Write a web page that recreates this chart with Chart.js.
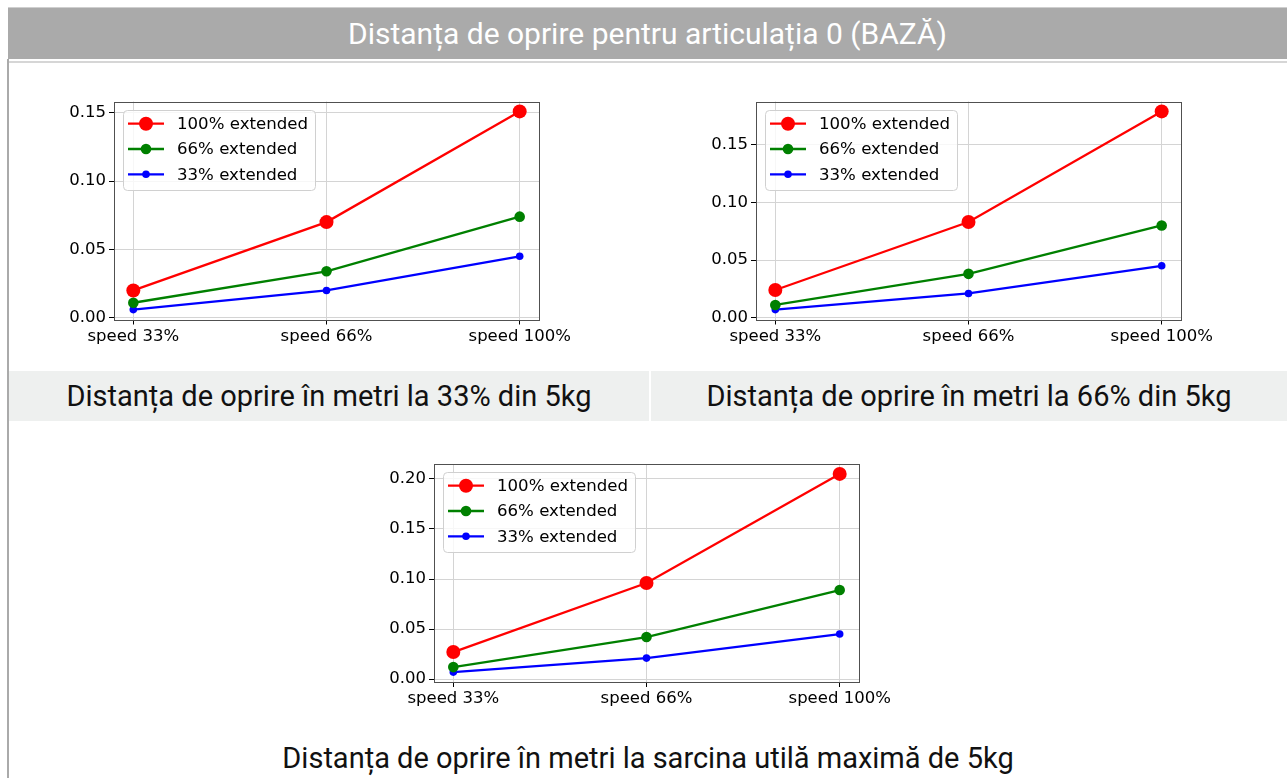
<!DOCTYPE html>
<html>
<head>
<meta charset="utf-8">
<script src="https://cdn.jsdelivr.net/npm/chart.js@4.4.1/dist/chart.umd.min.js"></script>
<style>
  body { margin: 0; width: 1287px; height: 778px; overflow: hidden; background: #fff; position: relative;
         font-family: Roboto, "Liberation Sans", sans-serif; }
  .abs { position: absolute; }
  #header { left: 8px; top: 7px; width: 1279px; height: 52px; box-sizing: border-box; background: #aaaaaa;
            border-top: 1px solid #cfcfcf; color: #fff; font-size: 30px;
            display: flex; align-items: center; justify-content: center; }
  #headerLine { left: 9px; top: 61px; width: 1278px; height: 2px; background: #d6d6d6; }
  #leftBorder { left: 7px; top: 59px; width: 2px; height: 719px; background: #aaaaaa; }
  .caption { height: 50px; top: 371px; background: #eef0ef; color: #111; font-size: 29px;
             display: flex; align-items: center; justify-content: center; }
  #bottomCaption { left: 9px; top: 737px; width: 1278px; height: 42px; color: #111; font-size: 29px;
                   display: flex; align-items: center; justify-content: center; }
  .plot { width: 550px; height: 270px; }
</style>
</head>
<body>

<div id="header" class="abs">Distanța de oprire pentru articulația 0 (BAZĂ)</div>
<div id="headerLine" class="abs"></div>
<div id="leftBorder" class="abs"></div>

<div class="abs plot" style="left:55px;top:88px"><canvas id="chart33" width="550" height="270"></canvas></div>
<div class="abs plot" style="left:697px;top:88px"><canvas id="chart66" width="550" height="270"></canvas></div>
<div class="abs plot" style="left:375px;top:450px"><canvas id="chartMax" width="550" height="270"></canvas></div>

<div class="abs caption" style="left:9px;width:640px">Distanța de oprire în metri la 33% din 5kg</div>
<div class="abs caption" style="left:651px;width:636px">Distanța de oprire în metri la 66% din 5kg</div>
<div id="bottomCaption" class="abs">Distanța de oprire în metri la sarcina utilă maximă de 5kg</div>

<script>
// ── Data ─────────────────────────────────────────────────────
const speeds = ["speed 33%", "speed 66%", "speed 100%"];
const seriesNames = ["100% extended", "66% extended", "33% extended"];

// payload 33% of 5kg
const load33_ext100 = [0.020, 0.070, 0.151];
const load33_ext66  = [0.011, 0.034, 0.074];
const load33_ext33  = [0.006, 0.020, 0.045];

// payload 66% of 5kg
const load66_ext100 = [0.024, 0.083, 0.179];
const load66_ext66  = [0.011, 0.038, 0.080];
const load66_ext33  = [0.007, 0.021, 0.045];

// max payload 5kg
const loadMax_ext100 = [0.027, 0.096, 0.205];
const loadMax_ext66  = [0.012, 0.042, 0.089];
const loadMax_ext33  = [0.007, 0.021, 0.045];

const yTicksSmall = [0.00, 0.05, 0.10, 0.15];
const yTicksLarge = [0.00, 0.05, 0.10, 0.15, 0.20];

// ── Style (matplotlib look) ─────────────────────────────────
const TICK_FONT = { family: "'DejaVu Sans', sans-serif", size: 16.5 };
const seriesStyle = [
  { color: "#ff0000", radius: 7 },
  { color: "#008000", radius: 5.3 },
  { color: "#0000ff", radius: 3.8 },
];

// frame around the plot area
const framePlugin = {
  id: "frame",
  beforeDatasetsDraw(chart) {
    const { ctx, chartArea: a } = chart;
    ctx.save();
    ctx.strokeStyle = "#505050";
    ctx.lineWidth = 1;
    ctx.strokeRect(Math.round(a.left) + 0.5, Math.round(a.top) + 0.5,
                   Math.round(a.right - a.left), Math.round(a.bottom - a.top));
    ctx.restore();
  },
};

// legend box in the upper-left corner, like plt.legend()
const mplLegend = {
  id: "mplLegend",
  afterDatasetsDraw(chart) {
    const { ctx, chartArea } = chart;
    const x = Math.round(chartArea.left) + 9;
    const y = Math.round(chartArea.top) + 8;
    ctx.save();
    ctx.beginPath();
    ctx.roundRect(x + 0.5, y + 0.5, 192, 80, 4);
    ctx.fillStyle = "rgba(255,255,255,0.8)";
    ctx.fill();
    ctx.strokeStyle = "#d0d0d0";
    ctx.lineWidth = 1;
    ctx.stroke();

    chart.data.datasets.forEach((ds, i) => {
      const ry = y + 13.7 + i * 25.3;
      ctx.strokeStyle = ds.borderColor;
      ctx.lineWidth = ds.borderWidth;
      ctx.beginPath();
      ctx.moveTo(x + 5, ry);
      ctx.lineTo(x + 41, ry);
      ctx.stroke();
      ctx.fillStyle = ds.backgroundColor;
      ctx.beginPath();
      ctx.arc(x + 23, ry, ds.pointRadius, 0, Math.PI * 2);
      ctx.fill();
      ctx.fillStyle = "#000";
      ctx.font = "16.6px 'DejaVu Sans'";
      ctx.textAlign = "left";
      ctx.textBaseline = "middle";
      ctx.fillText(ds.label, x + 54, ry + 1);
    });
    ctx.restore();
  },
};

function makeChart(canvasId, seriesList, yTicks, padTop) {
  // matplotlib-like autoscale: 5% margins around the data
  const all = seriesList.flat();
  const lo = Math.min(...all), hi = Math.max(...all);
  const margin = (hi - lo) * 0.05;

  const datasets = seriesList.map((values, i) => ({
    label: seriesNames[i],
    data: values.map((v, j) => ({ x: j, y: v })),
    borderColor: seriesStyle[i].color,
    backgroundColor: seriesStyle[i].color,
    borderWidth: 2.3,
    pointRadius: seriesStyle[i].radius,
    pointHoverRadius: seriesStyle[i].radius,
    pointBorderWidth: 0,
    tension: 0,
    clip: false,
  }));

  return new Chart(document.getElementById(canvasId), {
    type: "line",
    data: { datasets },
    plugins: [framePlugin, mplLegend],
    options: {
      responsive: false,
      animation: false,
      events: [],
      devicePixelRatio: 1,
      layout: { padding: { left: 0, top: padTop, right: 66, bottom: 270 - padTop - 218 - 30 } },
      plugins: { legend: { display: false }, tooltip: { enabled: false } },
      scales: {
        x: {
          type: "linear",
          min: -0.1,
          max: speeds.length - 1 + 0.1,
          afterBuildTicks: (scale) => { scale.ticks = speeds.map((_, i) => ({ value: i })); },
          afterFit: (scale) => { scale.height = 30; },
          ticks: {
            callback: (v) => speeds[v],
            color: "#000",
            font: TICK_FONT,
            padding: 2,
            maxRotation: 0,
            autoSkip: false,
          },
          grid: { color: "#d4d4d4", tickColor: "#000", tickLength: 5 },
          border: { display: false },
        },
        y: {
          type: "linear",
          min: lo - margin,
          max: hi + margin,
          afterBuildTicks: (scale) => { scale.ticks = yTicks.map((v) => ({ value: v })); },
          afterFit: (scale) => { scale.width = 59; },
          ticks: {
            callback: (v) => v.toFixed(2),
            color: "#000",
            font: TICK_FONT,
            padding: 3,
          },
          grid: { color: "#d4d4d4", tickColor: "#000", tickLength: 5 },
          border: { display: false },
        },
      },
    },
  });
}

makeChart("chart33",  [load33_ext100, load33_ext66, load33_ext33], yTicksSmall, 13.5);
makeChart("chart66",  [load66_ext100, load66_ext66, load66_ext33], yTicksSmall, 13.5);
makeChart("chartMax", [loadMax_ext100, loadMax_ext66, loadMax_ext33], yTicksLarge, 14);
</script>
</body>
</html>
